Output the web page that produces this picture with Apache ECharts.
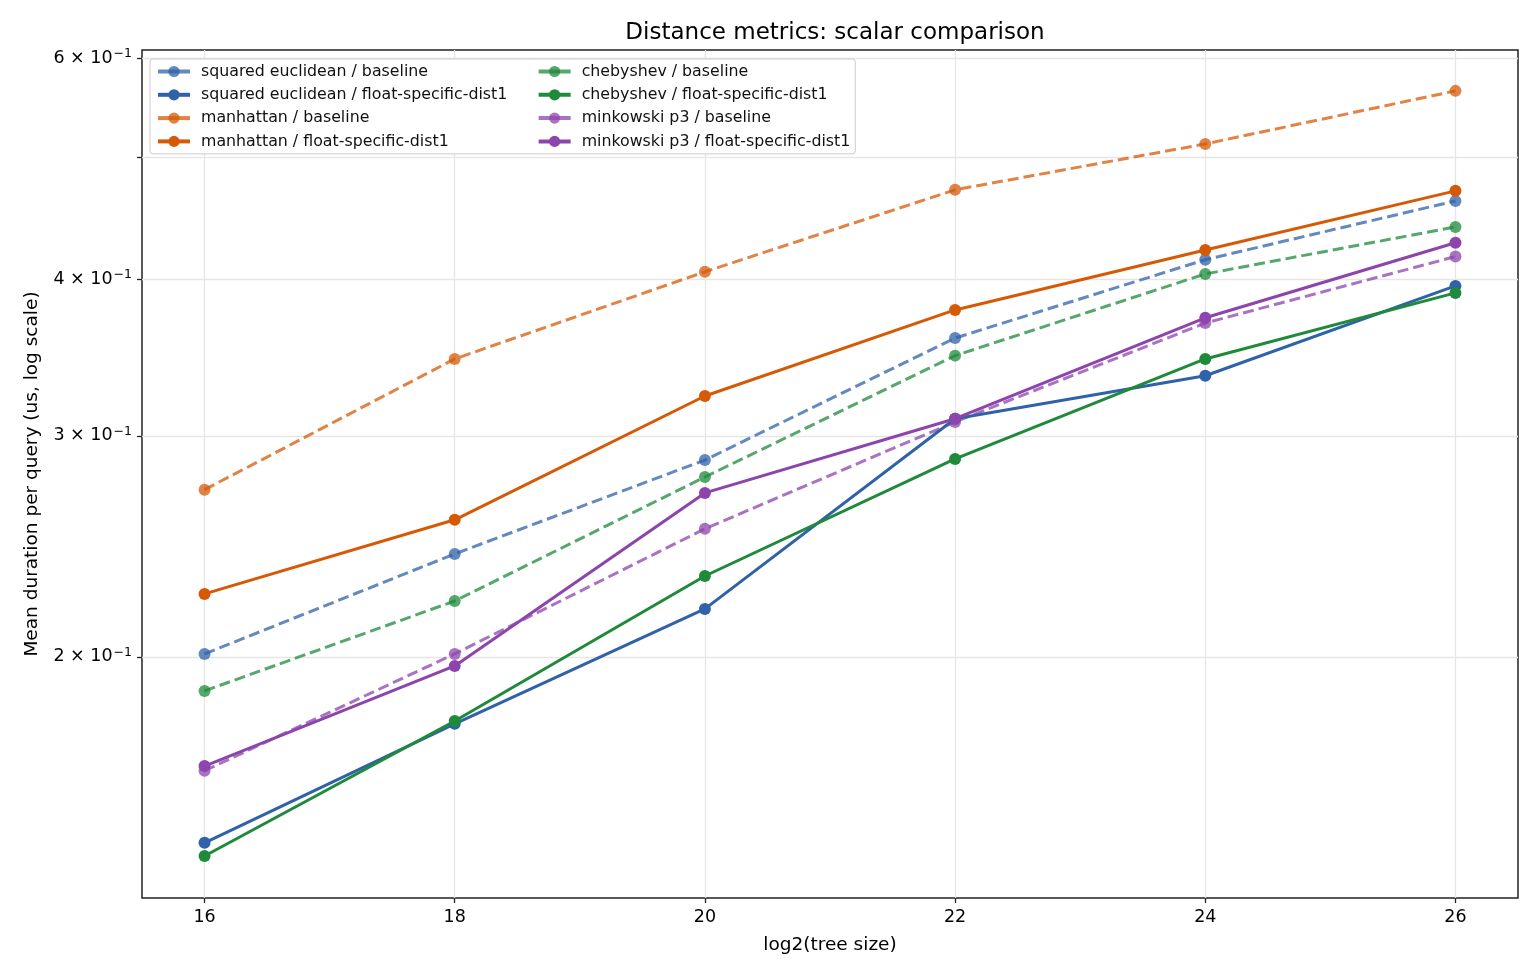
<!DOCTYPE html>
<html>
<head>
<meta charset="utf-8">
<script src="https://cdn.jsdelivr.net/npm/echarts@6/dist/echarts.min.js"></script>
<style>
  html, body { margin: 0; padding: 0; background: #fff; }
  #chart { width: 1540px; height: 980px; }
</style>
</head>
<body>
<div id="chart"></div>
<script>
// x positions: log2(tree size)
var treeSizes = [16, 18, 20, 22, 24, 26];

// mean duration per query (us)
var sqEuclidBase  = [0.2011, 0.2416, 0.287, 0.359, 0.4145, 0.4617];
var sqEuclidFloat = [0.1422, 0.1769, 0.2184, 0.3096, 0.335, 0.395];
var manhattanBase  = [0.2718, 0.3455, 0.4054, 0.4712, 0.5126, 0.565];
var manhattanFloat = [0.2245, 0.2572, 0.3228, 0.378, 0.422, 0.4703];
var chebyBase  = [0.1879, 0.2216, 0.2782, 0.3476, 0.4038, 0.4402];
var chebyFloat = [0.1388, 0.1778, 0.232, 0.2876, 0.3455, 0.39];
var minkBase  = [0.1623, 0.2011, 0.253, 0.3078, 0.369, 0.4169];
var minkFloat = [0.1637, 0.1967, 0.2702, 0.3096, 0.3726, 0.4276];

var yTicks = [0.2, 0.3, 0.4, 0.5, 0.6];
var yTickMantissa = { 0.2: '2', 0.3: '3', 0.4: '4', 0.6: '6' };  // 0.5 gets a tick but no label

var legendNames = [
  'squared euclidean / baseline', 'squared euclidean / float-specific-dist1',
  'manhattan / baseline', 'manhattan / float-specific-dist1',
  'chebyshev / baseline', 'chebyshev / float-specific-dist1',
  'minkowski p3 / baseline', 'minkowski p3 / float-specific-dist1'
];

function pairs(vals) {
  return treeSizes.map(function (x, i) { return [x, vals[i]]; });
}

function mkSeries(name, vals, color, dashed) {
  return {
    name: name,
    type: 'line',
    data: pairs(vals),
    symbol: 'circle',
    symbolSize: 12,
    z: dashed ? 2 : 3,
    lineStyle: { color: color, width: 3, type: dashed ? [11, 5] : 'solid', opacity: dashed ? 0.75 : 1 },
    itemStyle: { color: color, opacity: dashed ? 0.75 : 1 },
    emphasis: { disabled: true }
  };
}

var chart = echarts.init(document.getElementById('chart'));
var option = {
  backgroundColor: '#fff',
  animation: false,
  textStyle: { fontFamily: 'DejaVu Sans' },
  title: {
    text: 'Distance metrics: scalar comparison',
    left: 830, top: 17, textAlign: 'center',
    textStyle: { fontSize: 23, fontWeight: 'normal', color: '#000' }
  },
  grid: {
    left: 142, right: 22, top: 50, bottom: 82,
    show: true, borderColor: '#222', borderWidth: 1.5, backgroundColor: 'transparent'
  },
  legend: {
    orient: 'vertical',
    left: 150, top: 59, height: 92,
    itemWidth: 32, itemHeight: 14, itemGap: 4.3,
    backgroundColor: '#fff', borderColor: '#ccc', borderWidth: 1, borderRadius: 3,
    padding: [3, 5, 3, 6],
    lineStyle: { width: 4, type: 'solid' },
    textStyle: { fontSize: 15.8, lineHeight: 19, color: '#111', padding: [0, 0, 0, 6] },
    data: legendNames.map(function (n, i) {
      // first column items get extra right padding to open the column gap
      return i < 4 ? { name: n, textStyle: { padding: [0, 25, 0, 6] } } : { name: n };
    })
  },
  xAxis: {
    type: 'value', min: 15.5, max: 26.5, interval: 2,
    name: 'log2(tree size)', nameLocation: 'middle', nameGap: 38,
    nameTextStyle: { fontSize: 18.5, color: '#000' },
    axisLine: { show: false },
    axisTick: { show: true, length: 5, lineStyle: { color: '#222', width: 1.3 }, customValues: treeSizes },
    axisLabel: { fontSize: 17.5, color: '#000', margin: 10, customValues: treeSizes },
    splitLine: { show: true, lineStyle: { color: '#e6e6e6', width: 1.3 } }
  },
  yAxis: {
    type: 'log', logBase: 10, min: 0.1285, max: 0.609,
    name: 'Mean duration per query (us, log scale)', nameLocation: 'middle', nameGap: 100,
    nameTextStyle: { fontSize: 18.5, color: '#000' },
    axisLine: { show: false },
    axisTick: { show: true, length: 5, lineStyle: { color: '#222', width: 1.3 }, customValues: yTicks },
    axisLabel: {
      color: '#000', margin: 10, customValues: yTicks,
      formatter: function (v) {
        var k = Math.round(v * 10) / 10;
        var m = yTickMantissa[k];
        return m ? '{b|' + m + ' × 10}{s|−1}' : '';
      },
      rich: {
        b: { fontSize: 17.5, color: '#000', fontFamily: 'DejaVu Sans' },
        s: { fontSize: 12.5, color: '#000', fontFamily: 'DejaVu Sans', padding: [0, 0, 9, 1] }
      }
    },
    splitLine: { show: true, lineStyle: { color: '#e6e6e6', width: 1.3 } }
  },
  series: [
    mkSeries(legendNames[0], sqEuclidBase, '#2f62a8', true),
    mkSeries(legendNames[1], sqEuclidFloat, '#2f62a8', false),
    mkSeries(legendNames[2], manhattanBase, '#d65a05', true),
    mkSeries(legendNames[3], manhattanFloat, '#d65a05', false),
    mkSeries(legendNames[4], chebyBase, '#1e8a3a', true),
    mkSeries(legendNames[5], chebyFloat, '#1e8a3a', false),
    mkSeries(legendNames[6], minkBase, '#8e44ad', true),
    mkSeries(legendNames[7], minkFloat, '#8e44ad', false)
  ]
};
chart.setOption(option);
</script>
</body>
</html>
